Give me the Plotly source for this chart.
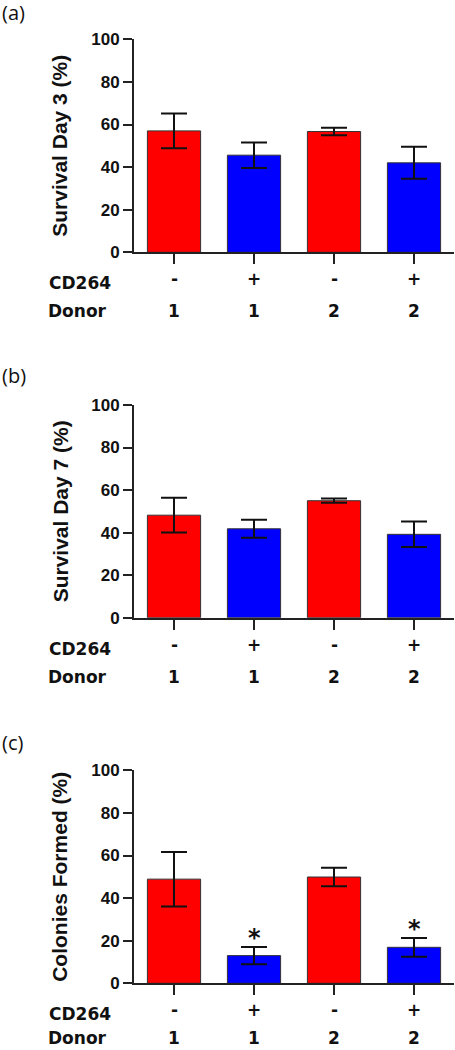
import plotly.graph_objects as go

W, H = 455, 1050

# ---- data ----
categories = [0, 1, 2, 3]
cd264_labels = ["-", "+", "-", "+"]
donor_labels = ["1", "1", "2", "2"]
bar_colors = ["#ff0000", "#0000ff", "#ff0000", "#0000ff"]

day3_mean = [57.0, 45.6, 56.7, 42.0]
day3_err = [8.2, 6.0, 1.8, 7.5]

day7_mean = [48.2, 41.8, 55.0, 39.2]
day7_err = [8.2, 4.2, 1.0, 6.0]

colonies_mean = [48.9, 13.0, 49.9, 16.9]
colonies_err = [12.8, 4.1, 4.3, 4.4]
colonies_sig = ["", "*", "", "*"]

y_titles = ["Survival Day 3 (%)", "Survival Day 7 (%)", "Colonies Formed (%)"]
panel_labels = ["(a)", "(b)", "(c)"]
y_ticks = [0, 20, 40, 60, 80, 100]

# ---- layout geometry (pixels) ----
x_left, x_right = 134, 454
panels_px = [(39.3, 252.3), (405.0, 617.7), (770.3, 983.3)]
label_px = [12, 375, 742]
donor_row_offset = [59, 59, 55]

def py(p):
    return 1 - p / H

fig = go.Figure()
datasets = [(day3_mean, day3_err, None), (day7_mean, day7_err, None),
            (colonies_mean, colonies_err, colonies_sig)]

annotations = []
tick_font = dict(family="Liberation Sans", size=17, color="#111111", weight="bold")
row_font = dict(family="DejaVu Sans", size=17, color="#111111", weight="bold")

for i, (means, errs, sig) in enumerate(datasets):
    xa = "x" if i == 0 else f"x{i+1}"
    ya = "y" if i == 0 else f"y{i+1}"
    fig.add_trace(go.Bar(
        x=categories, y=means, xaxis=xa, yaxis=ya,
        width=0.665,
        marker=dict(color=bar_colors, line=dict(color="#333333", width=1)),
        error_y=dict(type="data", array=errs, visible=True, color="#111111",
                     thickness=2, width=13),
        showlegend=False, hoverinfo="skip",
    ))
    top, bot = panels_px[i]
    dro = donor_row_offset[i]
    xk = "xaxis" if i == 0 else f"xaxis{i+1}"
    yk = "yaxis" if i == 0 else f"yaxis{i+1}"
    fig.update_layout(**{
        xk: dict(domain=[x_left / W, x_right / W], range=[-0.5, 3.5],
                 anchor=ya, showgrid=False, zeroline=False, automargin=False,
                 showline=True, linecolor="#222222", linewidth=2,
                 ticks="outside", ticklen=10, tickwidth=2, tickcolor="#222222",
                 tickvals=categories, showticklabels=False, fixedrange=True),
        yk: dict(domain=[py(bot), py(top)], range=[0, 100],
                 anchor=xa, showgrid=False, zeroline=False, automargin=False,
                 showline=True, linecolor="#222222", linewidth=2,
                 ticks="outside", ticklen=9, tickwidth=2, tickcolor="#222222",
                 tickvals=y_ticks, tickfont=tick_font, fixedrange=True),
    })
    annotations.append(dict(
        text=y_titles[i], textangle=-90, xref="paper", yref="paper",
        x=60 / W, y=py((top + bot) / 2), xanchor="center", yanchor="middle",
        showarrow=False,
        font=dict(family="Liberation Sans", size=21, color="#111111", weight="bold")))
    annotations.append(dict(
        text=panel_labels[i], xref="paper", yref="paper",
        x=0 / W, y=py(label_px[i]), xanchor="left", yanchor="middle",
        showarrow=False, font=dict(family="Open Sans", size=20, color="#111111")))
    annotations.append(dict(
        text="CD264", xref="paper", yref="paper", x=47 / W, y=py(bot + 31),
        xanchor="left", yanchor="middle", showarrow=False, font=row_font))
    annotations.append(dict(
        text="Donor", xref="paper", yref="paper", x=47 / W, y=py(bot + dro),
        xanchor="left", yanchor="middle", showarrow=False, borderpad=0,
        font=row_font))
    for c, s1, s2 in zip(categories, cd264_labels, donor_labels):
        annotations.append(dict(
            text=s1, xref=xa, yref="paper", x=c, y=py(bot + 27),
            xanchor="center", yanchor="middle", showarrow=False, font=row_font))
        annotations.append(dict(
            text=s2, xref=xa, yref="paper", x=c, y=py(bot + dro),
            xanchor="center", yanchor="middle", showarrow=False, borderpad=0,
            font=row_font))
    if sig:
        for c, m, e, s in zip(categories, means, errs, sig):
            if s:
                annotations.append(dict(
                    text=s, xref=xa, yref=ya, x=c, y=m + e, yshift=-7,
                    xanchor="center", yanchor="bottom", showarrow=False,
                    font=dict(family="DejaVu Sans", size=24, color="#111111",
                              weight="bold")))

fig.update_layout(
    width=W, height=H, margin=dict(l=0, r=0, t=0, b=0, autoexpand=False),
    paper_bgcolor="white", plot_bgcolor="white",
    annotations=annotations, bargap=0, hovermode=False,
)

fig.write_html(
    "out.html",
    config={"displayModeBar": False, "staticPlot": True},
    post_script="document.body.style.margin='0';document.body.style.overflow='hidden';",
)
